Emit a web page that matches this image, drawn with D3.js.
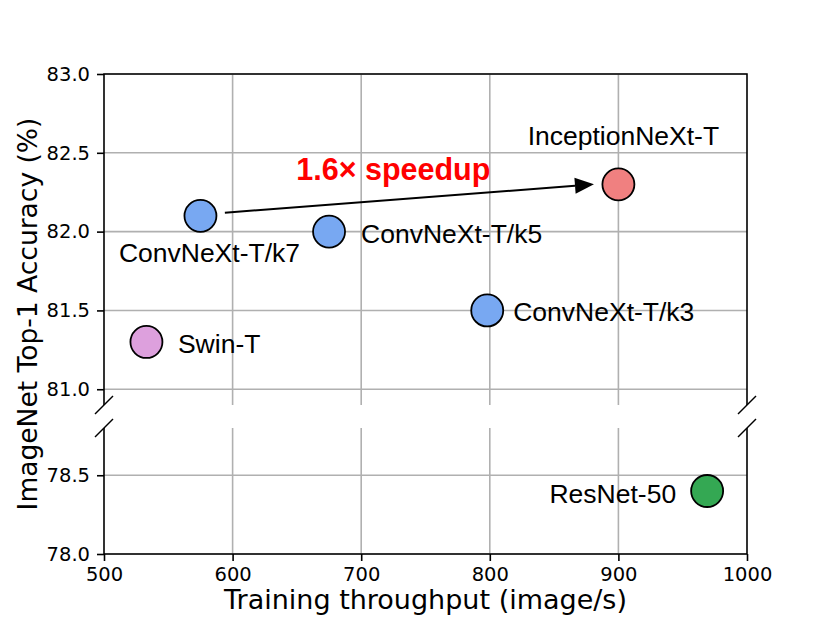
<!DOCTYPE html>
<html>
<head>
<meta charset="utf-8">
<script src="https://cdn.jsdelivr.net/npm/d3@7"></script>
<style>
  html, body { margin: 0; padding: 0; background: #fff; }
  svg { display: block; }
  .tick text { font-family: "DejaVu Sans", sans-serif; }
</style>
</head>
<body>
<div id="chart"></div>
<script>
// data
const models = ['ConvNeXt-T/k7', 'ConvNeXt-T/k5', 'ConvNeXt-T/k3', 'InceptionNeXt-T', 'Swin-T', 'ResNet-50'];
const throughput = [575, 675, 798, 900, 533, 969];
const accuracy = [82.1, 82.0, 81.5, 82.3, 81.3, 78.4];
const colors = ['#78a8f2', '#78a8f2', '#78a8f2', '#f08080', '#dda0dd', '#34a853'];

const xTicks = [500, 600, 700, 800, 900, 1000];
const yTicksTop = [81.0, 81.5, 82.0, 82.5, 83.0];
const yTicksBottom = [78.0, 78.5];

// speedup arrow (data coords)
const arrowFrom = [594, 82.12];
const arrowTo = [881, 82.3];
const speedupText = '1.6× speedup';
const speedupAt = [725, 82.4];

const width = 830, height = 623;
const left = 104, right = 747;
const topY0 = 74, topY1 = 405;     // upper panel
const botY0 = 428, botY1 = 554;    // lower panel

const svg = d3.select('#chart').append('svg')
  .attr('width', width).attr('height', height);

const x = d3.scaleLinear().domain([500, 1000]).range([left, right]);
const yTop = d3.scaleLinear().domain([80.9, 83.0]).range([topY1, topY0]);
const yBot = d3.scaleLinear().domain([78.0, 78.8]).range([botY1, botY0]);

const gridColor = '#b0b0b0';
const labelFont = '"Liberation Sans", Arial, Helvetica, sans-serif';
const axisFont = '"DejaVu Sans", sans-serif';

// grids
function drawGrid(y, yTicks, y0, y1) {
  const g = svg.append('g');
  g.selectAll('line.v').data(xTicks.slice(1, -1)).enter().append('line')
    .attr('x1', d => x(d)).attr('x2', d => x(d))
    .attr('y1', y0).attr('y2', y1)
    .attr('stroke', gridColor).attr('stroke-width', 1.6);
  g.selectAll('line.h').data(yTicks).enter().append('line')
    .attr('x1', left).attr('x2', right)
    .attr('y1', d => y(d)).attr('y2', d => y(d))
    .attr('stroke', gridColor).attr('stroke-width', 1.6);
}
drawGrid(yTop, yTicksTop, topY0, topY1);
drawGrid(yBot, yTicksBottom, botY0, botY1);

// y axes
function styleAxis(g) {
  g.select('.domain').remove();
  g.selectAll('.tick line').attr('stroke', '#000').attr('stroke-width', 1.6);
  g.selectAll('.tick text').attr('fill', '#000').style('font-size', '19.5px');
}
svg.append('g').attr('transform', `translate(${left},0)`)
  .call(d3.axisLeft(yTop).tickValues(yTicksTop).tickFormat(d3.format('.1f')).tickSize(7).tickPadding(7))
  .call(styleAxis);
svg.append('g').attr('transform', `translate(${left},0)`)
  .call(d3.axisLeft(yBot).tickValues(yTicksBottom).tickFormat(d3.format('.1f')).tickSize(7).tickPadding(7))
  .call(styleAxis);
svg.append('g').attr('transform', `translate(0,${botY1})`)
  .call(d3.axisBottom(x).tickValues(xTicks).tickFormat(d3.format('d')).tickSize(7).tickPadding(6))
  .call(styleAxis);

// spines
const spine = svg.append('g').attr('stroke', '#000').attr('stroke-width', 1.6).attr('fill', 'none');
spine.append('path').attr('d', `M${left},${topY1}V${topY0}H${right}V${topY1}`);
spine.append('path').attr('d', `M${left},${botY0}V${botY1}H${right}V${botY0}`);

// break marks
[left, right].forEach(sx => {
  [topY1, botY0].forEach(sy => {
    spine.append('line')
      .attr('x1', sx - 9).attr('y1', sy + 9)
      .attr('x2', sx + 9).attr('y2', sy - 9)
      .attr('stroke-width', 1.4);
  });
});

// axis titles
svg.append('text')
  .attr('x', (left + right) / 2).attr('y', 609)
  .attr('text-anchor', 'middle')
  .style('font-family', axisFont).style('font-size', '27px')
  .text('Training throughput (image/s)');

svg.append('text')
  .attr('transform', `translate(37,314) rotate(-90)`)
  .attr('text-anchor', 'middle')
  .style('font-family', axisFont).style('font-size', '26.5px')
  .text('ImageNet Top-1 Accuracy (%)');

// arrow
const ax0 = x(arrowFrom[0]), ay0 = yTop(arrowFrom[1]);
const ax1 = x(arrowTo[0]), ay1 = yTop(arrowTo[1]);
const ang = Math.atan2(ay1 - ay0, ax1 - ax0);
const headLen = 19, headW = 8;
const bx = ax1 - headLen * Math.cos(ang), by = ay1 - headLen * Math.sin(ang);
svg.append('line')
  .attr('x1', ax0).attr('y1', ay0).attr('x2', bx).attr('y2', by)
  .attr('stroke', '#000').attr('stroke-width', 2);
svg.append('path')
  .attr('d', `M${ax1},${ay1}L${bx - headW * Math.sin(ang)},${by + headW * Math.cos(ang)}L${bx + headW * Math.sin(ang)},${by - headW * Math.cos(ang)}Z`)
  .attr('fill', '#000');

svg.append('text')
  .attr('x', x(speedupAt[0])).attr('y', yTop(speedupAt[1]) + 11)
  .attr('text-anchor', 'middle')
  .style('font-family', labelFont).style('font-size', '30.5px').style('font-weight', 'bold')
  .attr('fill', '#ff0000')
  .text(speedupText);

// points
const pts = models.map((m, i) => ({
  name: m, tp: throughput[i], acc: accuracy[i], color: colors[i],
  y: accuracy[i] >= 80 ? yTop(accuracy[i]) : yBot(accuracy[i])
}));

svg.append('g').selectAll('circle').data(pts).enter().append('circle')
  .attr('cx', d => x(d.tp)).attr('cy', d => d.y)
  .attr('r', 16)
  .attr('fill', d => d.color)
  .attr('stroke', '#000').attr('stroke-width', 1.8);

// label offsets (px) relative to each point
const labelPos = {
  'ConvNeXt-T/k7': { dx: 9, dy: 46, anchor: 'middle' },
  'ConvNeXt-T/k5': { dx: 32, dy: 11.5, anchor: 'start' },
  'ConvNeXt-T/k3': { dx: 26, dy: 10.7, anchor: 'start' },
  'InceptionNeXt-T': { dx: 5, dy: -39, anchor: 'middle' },
  'Swin-T': { dx: 31.5, dy: 10.7, anchor: 'start' },
  'ResNet-50': { dx: -31, dy: 11.7, anchor: 'end' }
};

svg.append('g').selectAll('text').data(pts).enter().append('text')
  .attr('x', d => x(d.tp) + labelPos[d.name].dx)
  .attr('y', d => d.y + labelPos[d.name].dy)
  .attr('text-anchor', d => labelPos[d.name].anchor)
  .style('font-family', labelFont).style('font-size', '26.5px')
  .text(d => d.name);
</script>
</body>
</html>
